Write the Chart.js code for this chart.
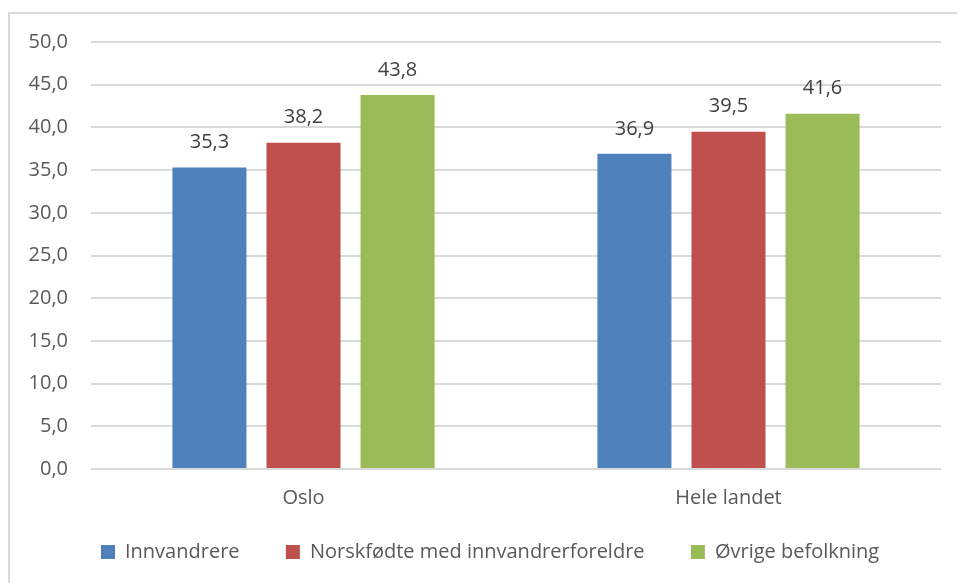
<!DOCTYPE html>
<html>
<head>
<meta charset="utf-8">
<script src="https://cdn.jsdelivr.net/npm/chart.js@4"></script>
<style>
  body { margin: 0; background: #fff; }
  #wrap { position: relative; width: 957px; height: 583px; overflow: hidden; }
  #frame { position: absolute; left: 8px; top: 12px; width: 1000px; height: 700px;
           border-left: 2px solid #d9d9d9; border-top: 2px solid #d9d9d9; }
  #chart { position: absolute; left: 0; top: 0; }
</style>
</head>
<body>
<div id="wrap">
  <div id="frame"></div>
  <canvas id="chart" width="957" height="583"></canvas>
</div>
<script>
const categories = ['Oslo', 'Hele landet'];
const innvandrere = [35.3, 36.9];
const norskfodte = [38.2, 39.5];
const ovrige = [43.8, 41.6];
const seriesNames = ['Innvandrere', 'Norskfødte med innvandrerforeldre', 'Øvrige befolkning'];
const yTicks = [0, 5, 10, 15, 20, 25, 30, 35, 40, 45, 50];

const txt = '#595959';
const font = "'Open Sans', sans-serif";
const fmt = v => v.toFixed(1).replace('.', ',');

// verdier over søylene
const valueLabels = {
  id: 'valueLabels',
  afterDatasetsDraw(chart) {
    const c = chart.ctx;
    c.save();
    c.font = '20px ' + font;
    c.fillStyle = '#404040';
    c.textAlign = 'center';
    c.textBaseline = 'middle';
    chart.data.datasets.forEach((ds, i) => {
      chart.getDatasetMeta(i).data.forEach((bar, j) => {
        c.fillText(fmt(ds.data[j]), bar.x, bar.y - 25);
      });
    });
    c.restore();
  }
};

const ctx = document.getElementById('chart').getContext('2d');
new Chart(ctx, {
  type: 'bar',
  data: {
    labels: categories,
    datasets: [
      { label: seriesNames[0], data: innvandrere, backgroundColor: '#4F81BD' },
      { label: seriesNames[1], data: norskfodte, backgroundColor: '#C0504D' },
      { label: seriesNames[2], data: ovrige, backgroundColor: '#9BBB59' }
    ]
  },
  options: {
    responsive: false,
    animation: false,
    datasets: { bar: { barPercentage: 0.787, categoryPercentage: 0.664 } },
    layout: { padding: { top: 42, right: 16, bottom: 11, left: 0 } },
    scales: {
      x: {
        grid: { display: false },
        border: { display: false },
        ticks: { color: txt, font: { family: font, size: 20 }, padding: 9 },
        afterFit: s => { s.height = 63; }
      },
      y: {
        min: 0,
        max: 50,
        afterBuildTicks: s => { s.ticks = yTicks.map(v => ({ value: v })); },
        grid: { color: '#d9d9d9', lineWidth: 2, drawTicks: false },
        border: { display: false },
        ticks: { color: txt, font: { family: font, size: 20 }, padding: 23, callback: v => fmt(v) },
        afterFit: s => { s.width = 91; }
      }
    },
    plugins: {
      legend: {
        position: 'bottom',
        fullSize: false,
        align: 'start',
        labels: {
          color: txt,
          font: { family: font, size: 20 },
          usePointStyle: true,
          pointStyle: 'rect',
          boxWidth: 14,
          boxHeight: 14,
          padding: 10,
          // litt ekstra luft mellom forklaringene
          generateLabels: chart => Chart.defaults.plugins.legend.labels.generateLabels(chart)
            .map((l, i) => ({ ...l, text: i < 2 ? l.text + '\u00a0'.repeat(7) : l.text }))
        }
      },
      tooltip: { enabled: false }
    }
  },
  plugins: [valueLabels]
});
</script>
</body>
</html>
